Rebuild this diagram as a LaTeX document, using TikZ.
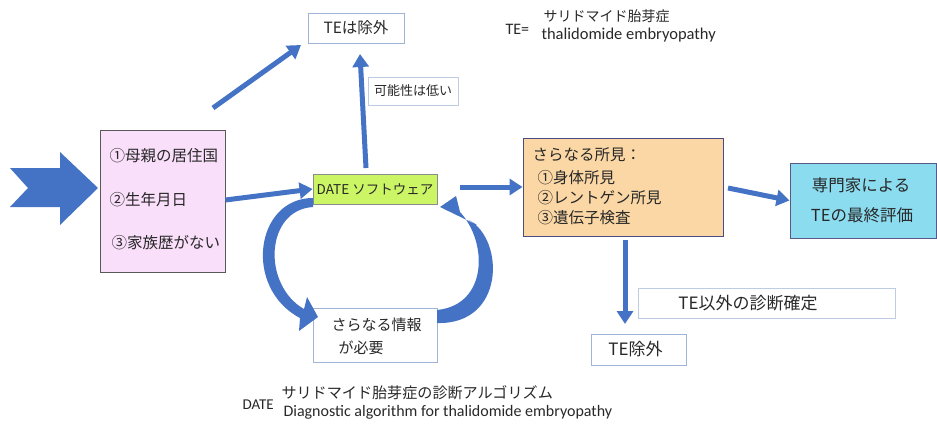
\documentclass[tikz,border=0pt]{standalone}
\usepackage{fontspec}
\setmainfont{Noto Sans CJK JP}
\newfontfamily\latinfont{Carlito}
\usetikzlibrary{arrows.meta}
\definecolor{arrowblue}{RGB}{68,114,196}
\definecolor{pinkfill}{RGB}{249,223,249}
\definecolor{limefill}{RGB}{204,245,102}
\definecolor{orangefill}{RGB}{250,215,165}
\definecolor{cyanfill}{RGB}{140,220,240}
\definecolor{lightborder}{RGB}{160,180,215}
\definecolor{txt}{RGB}{40,40,40}
\tikzset{
  box/.style={draw, rectangle, inner sep=0pt, line width=0.9pt},
  thinarrow/.style={draw=arrowblue, line width=5pt, -{Triangle[width=16pt,length=13pt]}},
  fs/.style={font=\fontsize{#1}{#1}\selectfont},
}
\begin{document}
\begin{tikzpicture}[x=1pt,y=-1pt, text=txt]
\useasboundingbox (0,0) rectangle (937,428);

% big input arrow
\fill[arrowblue] (10,168) -- (60,168) -- (60,152) -- (98,188) -- (60,225) -- (60,207) -- (10,207) -- (28,188) -- cycle;

% pink box
\node[box, draw=black!65, fill=pinkfill, minimum width=125pt, minimum height=142pt] (pink) at (162.5,201) {};
\node[fs=15.5, anchor=west] (p1) at (106,156) {①母親の居住国};
\node[fs=15.5, anchor=west] (p2) at (106,200) {②生年月日};
\node[fs=15.5, anchor=west] (p3) at (108,243) {③家族歴がない};

% top TE box
\node[box, draw=lightborder, fill=white, minimum width=96pt, minimum height=30pt, fs=15.5] (te1) at (356,28) {TEは除外};
\node[box, draw=lightborder!70, fill=white, minimum width=90pt, minimum height=28pt, fs=13] (low) at (413,91) {可能性は低い};

% TE definition
\node[fs=16, anchor=west] (teq) at (502,29) {\latinfont TE=};
\node[fs=14, anchor=west] (tejp) at (540,16) {サリドマイド胎芽症};
\node[fs=16.5, anchor=west] (teen) at (538,35) {\latinfont thalidomide embryopathy};

% DATE box
\node[box, draw=black!45, fill=limefill, minimum width=124pt, minimum height=30pt, fs=13.5] (date) at (375,189) {DATE ソフトウェア};

% more info box
\node[box, draw=lightborder, fill=white, minimum width=124pt, minimum height=54pt] (info) at (375,335) {};
\node[fs=15, anchor=west] (i1) at (328,325) {さらなる情報};
\node[fs=15, anchor=west] (i2) at (335,348) {が必要};

% orange box
\node[box, draw=black!45!blue!40!gray, fill=orangefill, minimum width=200pt, minimum height=98pt] (org) at (623,187) {};
\node[fs=15.5, anchor=west] (o0) at (529,155) {さらなる所見：};
\node[fs=15.5, anchor=west] (o1) at (534,178) {①身体所見};
\node[fs=15.5, anchor=west] (o2) at (534,198) {②レントゲン所見};
\node[fs=15.5, anchor=west] (o3) at (534,218) {③遺伝子検査};

% cyan box
\node[box, draw=black!40!blue!30!gray, fill=cyanfill, minimum width=146pt, minimum height=75pt] (cyan) at (863,200.5) {};
\node[fs=16.5] (c1) at (861,185) {専門家による};
\node[fs=16.5] (c2) at (862,215) {TEの最終評価};

% other diagnosis
\node[box, draw=lightborder!70, fill=white, minimum width=257pt, minimum height=30pt] (other) at (766.5,303) {};
\node[fs=17] (othert) at (748,303) {TE以外の診断確定};
\node[box, draw=lightborder, fill=white, minimum width=95pt, minimum height=31pt] (te2) at (638.5,349.5) {};
\node[fs=17] (te2t) at (635.5,349.5) {TE除外};

% caption
\node[fs=15, anchor=west] (cd) at (239,405) {\latinfont DATE};
\node[fs=15.1, anchor=west] (cj) at (278,393) {サリドマイド胎芽症の診断アルゴリズム};
\node[fs=16, anchor=west] (ce) at (280,412) {\latinfont Diagnostic algorithm for thalidomide embryopathy};

% thin arrows
\coordinate (ulstart) at (213,108);
\coordinate (ulend) at (301,45);
\draw[thinarrow] (ulstart) -- (ulend);
\coordinate (vstart) at (366,168);
\coordinate (vend) at (360,54);
\draw[thinarrow] (vstart) -- (vend);
\draw[thinarrow] (pink.east) ++(0,-1) -- (date.west);
\coordinate (d2start) at (460,187);
\draw[thinarrow] (d2start) -- (org.west);
\coordinate (o2start) at (728,188);
\draw[thinarrow] (o2start) -- (cyan.west);
\coordinate (dstart) at (625,240);
\coordinate (dend) at (625,324);
\draw[thinarrow] (dstart) -- (dend);

% curved block arrows
\fill[arrowblue] (313,198) .. controls (255,198) and (243,288) .. (300,318) -- (299,331) -- (318,317) -- (307,297) -- (304,309) .. controls (262,285) and (265,210) .. (313,207) -- cycle;
\fill[arrowblue] (437,310) .. controls (488,305) and (488,242) .. (460,212) -- (456,196) -- (440,207) -- (477,225) -- (469,220) .. controls (505,240) and (505,325) .. (437,323) -- cycle;
\end{tikzpicture}
\end{document}
